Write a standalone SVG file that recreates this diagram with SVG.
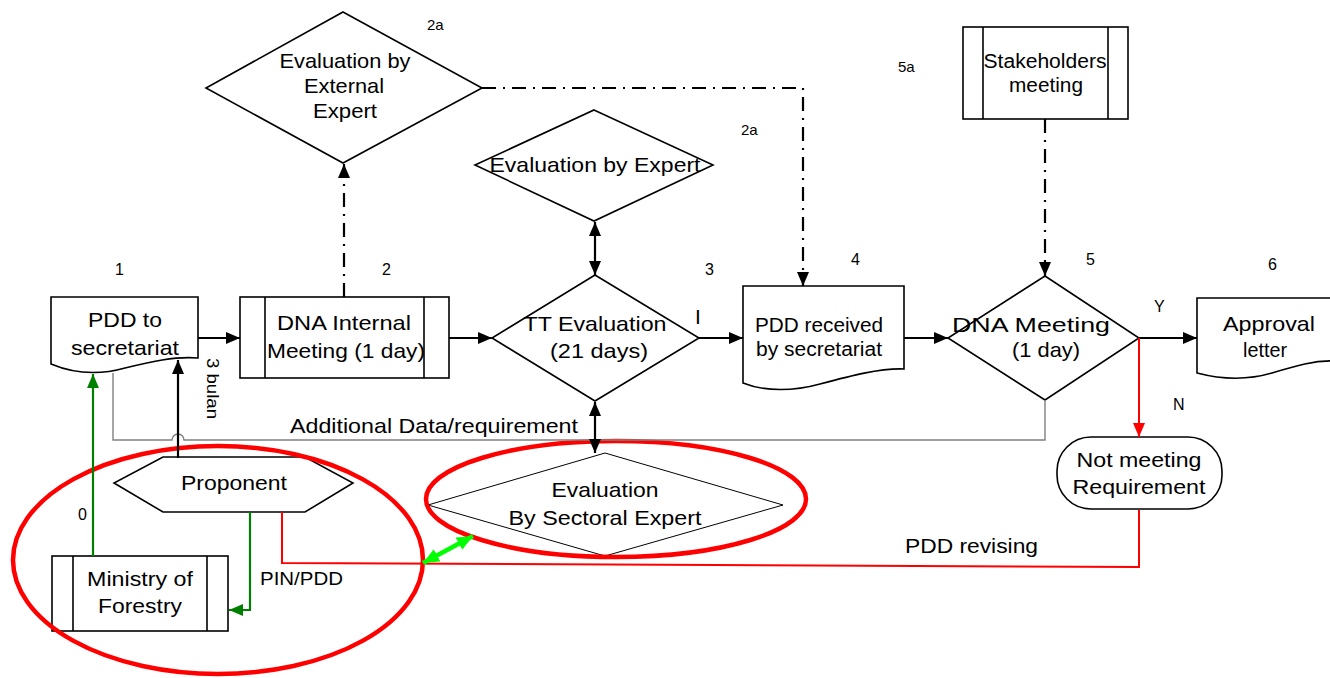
<svg xmlns="http://www.w3.org/2000/svg" width="1330" height="678" viewBox="0 0 1330 678">
<defs>
<style>
.t{font-family:"Liberation Sans",Arial,sans-serif;font-size:21px;fill:#000;text-anchor:middle}
.n{font-family:"Liberation Sans",Arial,sans-serif;font-size:16px;fill:#000}
.s{fill:#fff;stroke:#000;stroke-width:1.6}
.thin{fill:#fff;stroke:#000;stroke-width:1}
.ln{fill:none;stroke:#000;stroke-width:2.2}
.dd{fill:none;stroke:#000;stroke-width:2.2;stroke-dasharray:14 7 2 7}
.red{fill:none;stroke:#ff0000;stroke-width:2}
.grn{fill:none;stroke:#008000;stroke-width:2.2}
.gray{fill:none;stroke:#808080;stroke-width:1.4}
.ell{fill:none;stroke:#ff0000;stroke-width:4.5}
</style>
<marker id="ab" viewBox="0 0 14 12" refX="14" refY="6" markerWidth="14" markerHeight="12" markerUnits="userSpaceOnUse" orient="auto-start-reverse"><path d="M0,0 L14,6 L0,12 z" fill="#000"/></marker>
<marker id="ar" viewBox="0 0 14 12" refX="14" refY="6" markerWidth="14" markerHeight="12" markerUnits="userSpaceOnUse" orient="auto"><path d="M0,0 L14,6 L0,12 z" fill="#ff0000"/></marker>
<marker id="ag" viewBox="0 0 14 12" refX="14" refY="6" markerWidth="14" markerHeight="12" markerUnits="userSpaceOnUse" orient="auto"><path d="M0,0 L14,6 L0,12 z" fill="#008000"/></marker>
<marker id="al" viewBox="0 0 14 12" refX="14" refY="6" markerWidth="16" markerHeight="14" markerUnits="userSpaceOnUse" orient="auto-start-reverse"><path d="M0,0 L14,6 L0,12 z" fill="#00ff00"/></marker>
</defs>
<rect width="1330" height="678" fill="#fff"/>

<g id="pdd-to-secretariat">
<path class="s" d="M51,297 H198 V358 C175,356 150,362 125,368 C100,375 75,374 51,364 Z"/>
<text class="t" x="125" y="327" textLength="74" lengthAdjust="spacingAndGlyphs">PDD to</text>
<text class="t" x="125" y="355" textLength="108" lengthAdjust="spacingAndGlyphs">secretariat</text>
</g>

<g id="dna-internal">
<rect class="s" x="240" y="297" width="209" height="81"/>
<line class="s" x1="265" y1="297" x2="265" y2="378"/>
<line class="s" x1="424" y1="297" x2="424" y2="378"/>
<text class="t" x="344" y="330" textLength="134" lengthAdjust="spacingAndGlyphs">DNA Internal</text>
<text class="t" x="346" y="358" textLength="158" lengthAdjust="spacingAndGlyphs">Meeting (1 day)</text>
</g>

<g id="external-expert">
<polygon class="s" points="343,12 482,88 343,163 206,88"/>
<text class="t" x="345" y="68" textLength="131" lengthAdjust="spacingAndGlyphs">Evaluation by</text>
<text class="t" x="344" y="93" textLength="80" lengthAdjust="spacingAndGlyphs">External</text>
<text class="t" x="345" y="118" textLength="64" lengthAdjust="spacingAndGlyphs">Expert</text>
</g>

<g id="expert">
<polygon class="s" points="594,110 713,165 594,221 475,165"/>
<text class="t" x="595" y="172" textLength="211" lengthAdjust="spacingAndGlyphs">Evaluation by Expert</text>
</g>

<g id="tt-evaluation">
<polygon class="s" points="595,275 699,338 595,401 492,338"/>
<text class="t" x="595" y="331" textLength="143" lengthAdjust="spacingAndGlyphs">TT Evaluation</text>
<text class="t" x="599" y="358" textLength="98" lengthAdjust="spacingAndGlyphs">(21 days)</text>
</g>

<g id="pdd-received">
<path class="s" d="M743,286 H904 V369 C880,368 850,376 820,384 C795,391 765,392 743,383 Z"/>
<text class="t" x="819" y="332" textLength="128" lengthAdjust="spacingAndGlyphs" style="font-size:20px">PDD received</text>
<text class="t" x="819" y="356" textLength="126" lengthAdjust="spacingAndGlyphs" style="font-size:20px">by secretariat</text>
</g>

<g id="stakeholders">
<rect class="s" x="963" y="27" width="165" height="92"/>
<line class="s" x1="983" y1="27" x2="983" y2="119"/>
<line class="s" x1="1108" y1="27" x2="1108" y2="119"/>
<text class="t" x="1045" y="68" textLength="123" lengthAdjust="spacingAndGlyphs" style="font-size:20px">Stakeholders</text>
<text class="t" x="1046" y="92" textLength="74" lengthAdjust="spacingAndGlyphs" style="font-size:20px">meeting</text>
</g>

<g id="dna-meeting">
<polygon class="s" points="1045,276 1139,338 1045,400 948,338"/>
<text class="t" x="1031" y="332" textLength="158" lengthAdjust="spacingAndGlyphs">DNA Meeting</text>
<text class="t" x="1046" y="357" textLength="68" lengthAdjust="spacingAndGlyphs">(1 day)</text>
</g>

<g id="approval-letter">
<path class="s" d="M1197,298 H1336 V361 C1315,360 1295,366 1272,373 C1245,381 1220,379 1197,373 Z"/>
<text class="t" x="1269" y="331" textLength="92" lengthAdjust="spacingAndGlyphs">Approval</text>
<text class="t" x="1265" y="357" textLength="44" lengthAdjust="spacingAndGlyphs">letter</text>
</g>

<g id="not-meeting">
<rect class="s" x="1057" y="437" width="165" height="72" rx="34" ry="34"/>
<text class="t" x="1139" y="467" textLength="125" lengthAdjust="spacingAndGlyphs">Not meeting</text>
<text class="t" x="1139" y="494" textLength="133" lengthAdjust="spacingAndGlyphs">Requirement</text>
</g>

<g id="proponent">
<polygon class="s" points="163,457 305,457 353,483 305,512 163,512 114,483"/>
<text class="t" x="234" y="490" textLength="106" lengthAdjust="spacingAndGlyphs">Proponent</text>
</g>

<g id="ministry">
<rect class="s" x="52" y="556" width="176" height="75"/>
<line class="s" x1="73" y1="556" x2="73" y2="631"/>
<line class="s" x1="207" y1="556" x2="207" y2="631"/>
<text class="t" x="140" y="586" textLength="106" lengthAdjust="spacingAndGlyphs">Ministry of</text>
<text class="t" x="140" y="613" textLength="84" lengthAdjust="spacingAndGlyphs">Forestry</text>
</g>

<g id="sectoral-expert">
<polygon class="thin" points="605,453 783,505 605,556 428,505"/>
<text class="t" x="605" y="497" textLength="107" lengthAdjust="spacingAndGlyphs">Evaluation</text>
<text class="t" x="605" y="525" textLength="193" lengthAdjust="spacingAndGlyphs">By Sectoral Expert</text>
</g>

<g id="highlights">
<ellipse class="ell" cx="218" cy="560" rx="205" ry="114"/>
<ellipse class="ell" cx="616" cy="499" rx="190" ry="58"/>
</g>

<g id="connectors">
<path class="gray" d="M1045,400 V440 H184 A6,6 0 0 0 172,440 H113 V373"/>
<path class="ln" d="M198,338 H240" marker-end="url(#ab)"/>
<path class="ln" d="M449,338 H492" marker-end="url(#ab)"/>
<path class="ln" d="M699,338 H743" marker-end="url(#ab)"/>
<path class="ln" d="M904,338 H948" marker-end="url(#ab)"/>
<path class="ln" d="M1139,338 H1197" marker-end="url(#ab)"/>
<path class="ln" d="M178,458 V360" marker-end="url(#ab)"/>
<path class="ln" d="M595,222 V275" marker-start="url(#ab)" marker-end="url(#ab)"/>
<path class="ln" d="M595,402 V453" marker-start="url(#ab)" marker-end="url(#ab)"/>
<path class="dd" d="M344,297 V164" marker-end="url(#ab)"/>
<path class="dd" d="M482,88 H803 V286" marker-end="url(#ab)"/>
<path class="dd" d="M1045,119 V276" marker-end="url(#ab)"/>
<path class="red" d="M1139,338 V437" marker-end="url(#ar)"/>
<path class="red" d="M1139,510 V567 L282,563 V512"/>
<path class="grn" d="M93,556 V374" marker-end="url(#ag)"/>
<path class="grn" d="M250,512 V610 H229" marker-end="url(#ag)"/>
<path d="M423,563 L473,536" fill="none" stroke="#00ff00" stroke-width="4.5" marker-start="url(#al)" marker-end="url(#al)"/>
</g>

<g id="labels">
<text class="n" x="115" y="275">1</text>
<text class="n" x="382" y="275">2</text>
<text class="n" x="427" y="30" style="font-size:15px">2a</text>
<text class="n" x="741" y="135" style="font-size:15px">2a</text>
<text class="n" x="705" y="275">3</text>
<text class="n" x="851" y="265">4</text>
<text class="n" x="898" y="72" style="font-size:15px">5a</text>
<text class="n" x="1086" y="265">5</text>
<text class="n" x="1268" y="270">6</text>
<text class="n" x="1154" y="312">Y</text>
<text class="n" x="1173" y="410">N</text>
<text class="n" x="695" y="324" style="font-size:21px">I</text>
<text class="n" x="78" y="520">0</text>
<text class="n" x="260" y="585" style="font-size:18px" textLength="83" lengthAdjust="spacingAndGlyphs">PIN/PDD</text>
<text class="n" x="290" y="433" style="font-size:21px" textLength="288" lengthAdjust="spacingAndGlyphs">Additional Data/requirement</text>
<text class="n" x="905" y="553" style="font-size:20px" textLength="133" lengthAdjust="spacingAndGlyphs">PDD revising</text>
<text class="n" transform="translate(207,358) rotate(90)" textLength="61" lengthAdjust="spacingAndGlyphs">3 bulan</text>
</g>
</svg>
